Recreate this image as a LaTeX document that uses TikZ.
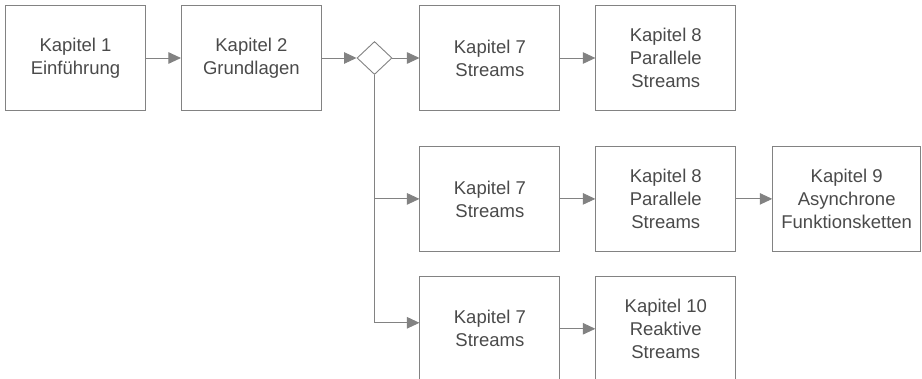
\documentclass[tikz,border=0pt]{standalone}
\usepackage{fontspec}
\setmainfont{Liberation Sans}
\usetikzlibrary{positioning,shapes.geometric,arrows.meta}
\definecolor{linie}{HTML}{828282}
\definecolor{schrift}{HTML}{4A4A4A}
\begin{document}
\begin{tikzpicture}[>={Triangle[length=12.5pt,width=11.5pt]},
    kapitel/.style={rectangle,draw=linie,line width=0.9pt,text=schrift,minimum width=140pt,minimum height=105pt,inner sep=0pt,align=center,font=\fontsize{18.5}{23}\selectfont},
    weiche/.style={diamond,draw=linie,line width=0.9pt,minimum width=35pt,minimum height=33pt,inner sep=0pt},
    pfeil/.style={->,draw=linie,line width=0.9pt}]
    \clip (0,0) rectangle (922pt,-379pt);
    \useasboundingbox (0,0) rectangle (922pt,-379pt);
    % erste Reihe
    \node[kapitel] (k1) at (75.5pt,-58pt) {Kapitel 1\\Einführung};
    \node[kapitel] (k2) [right=35pt of k1] {Kapitel 2\\Grundlagen};
    \node[weiche] (d) at (374.5pt,-58pt) {};
    \node[kapitel] (k7a) [right=27pt of d] {Kapitel 7\\Streams};
    \node[kapitel] (k8a) [right=35pt of k7a] {Kapitel 8\\Parallele\\Streams};
    % zweite Reihe
    \node[kapitel] (k7b) [below=35pt of k7a] {Kapitel 7\\Streams};
    \node[kapitel] (k8b) [right=35pt of k7b] {Kapitel 8\\Parallele\\Streams};
    \node[kapitel,minimum width=148pt] (k9) [right=36pt of k8b] {Kapitel 9\\Asynchrone\\Funktionsketten};
    % dritte Reihe
    \node[kapitel] (k7c) [below=24pt of k7b] {Kapitel 7\\Streams};
    \node[kapitel] (k10) [right=35pt of k7c] {Kapitel 10\\Reaktive\\Streams};
    % Pfeile
    \draw[pfeil] (k1) -- (k2);
    \draw[pfeil] (k2) -- (d);
    \draw[pfeil] (d) -- (k7a);
    \draw[pfeil] (k7a) -- (k8a);
    \draw[pfeil] (d.south) |- (k7b.west);
    \draw[pfeil] (k7b) -- (k8b);
    \draw[pfeil] (k8b) -- (k9);
    \draw[pfeil] (d.south) |- ([yshift=6pt]k7c.west);
    \draw[pfeil] (k7c) -- (k10);
\end{tikzpicture}
\end{document}
